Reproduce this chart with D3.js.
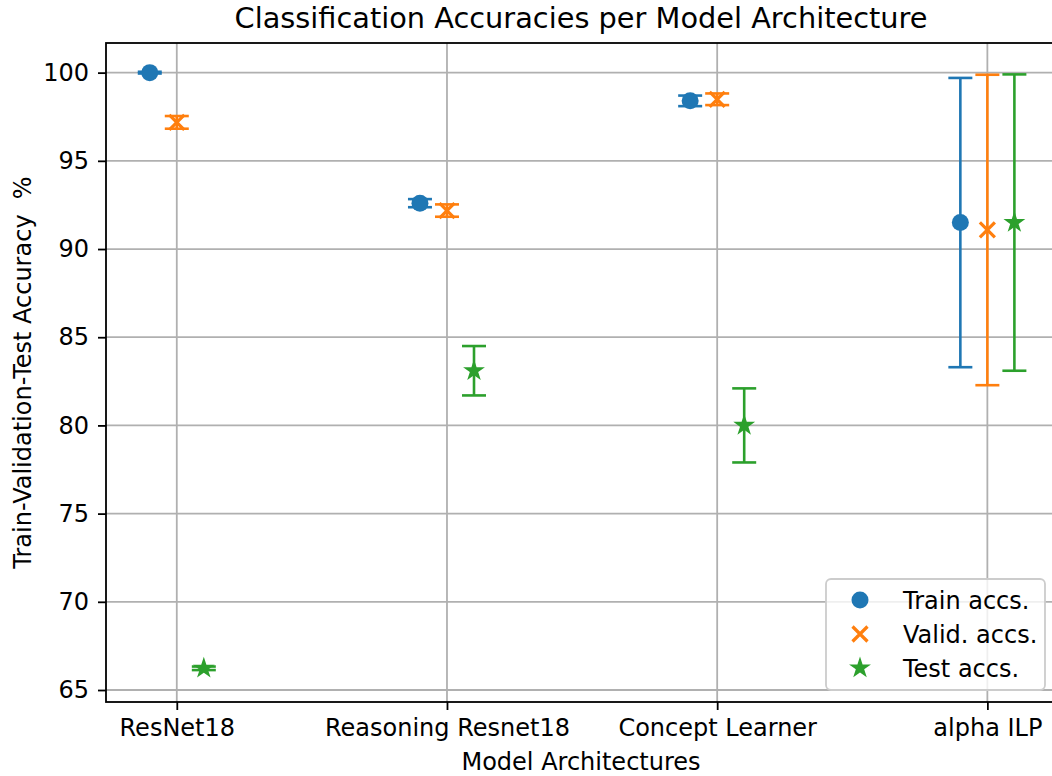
<!DOCTYPE html>
<html><head><meta charset="utf-8">
<script src="https://cdn.jsdelivr.net/npm/d3@7"></script>
<style>body{margin:0;background:#fff}svg{display:block;font-family:"DejaVu Sans",sans-serif}</style>
</head><body><svg id="c" width="1052" height="776"></svg>
<script>
const categories = ["ResNet18", "Reasoning Resnet18", "Concept Learner", "alpha ILP"];
const trainMean = [100.0, 92.6, 98.4, 91.5];
const trainErr  = [0.05, 0.23, 0.3, 8.2];
const validMean = [97.18, 92.18, 98.49, 91.08];
const validErr  = [0.36, 0.35, 0.33, 8.8];
const testMean  = [66.23, 83.1, 80.0, 91.5];
const testErr   = [0.1, 1.4, 2.1, 8.4];
const yTicks = [65, 70, 75, 80, 85, 90, 95, 100];
const seriesNames = ["Train accs.", "Valid. accs.", "Test accs."];
const colors = ["#1f77b4", "#ff7f0e", "#2ca02c"];
const offsets = [-0.1, 0, 0.1];

const svg = d3.select("#c");
const L = 106, R = 1056, T = 43, B = 702;
const x = d3.scaleLinear().domain([-0.262, 3.254]).range([L, R]);
const y = d3.scaleLinear().domain([64.32, 101.68]).range([B, T]);

// grid
const g = svg.append("g");
g.selectAll(".gy").data(yTicks).join("line")
  .attr("x1", L).attr("x2", R).attr("y1", d => y(d)).attr("y2", d => y(d))
  .attr("stroke", "#b0b0b0").attr("stroke-width", 1.8);
g.selectAll(".gx").data(categories).join("line")
  .attr("x1", (d, i) => x(i)).attr("x2", (d, i) => x(i)).attr("y1", T).attr("y2", B)
  .attr("stroke", "#b0b0b0").attr("stroke-width", 1.8);

// axes
const yAxis = d3.axisLeft(y).tickValues(yTicks).tickSize(8).tickPadding(9);
const xAxis = d3.axisBottom(x).tickValues(categories.map((d, i) => i))
  .tickFormat(i => categories[i]).tickSize(8).tickPadding(9);
const ya = svg.append("g").attr("transform", `translate(${L},0)`).call(yAxis);
const xa = svg.append("g").attr("transform", `translate(0,${B})`).call(xAxis);
[ya, xa].forEach(a => {
  a.select(".domain").remove();
  a.selectAll("line").attr("stroke", "#000").attr("stroke-width", 1.8);
  a.selectAll("text").attr("font-size", 24).attr("fill", "#000").attr("font-family", "DejaVu Sans");
});
// spines
svg.append("rect").attr("x", L).attr("y", T).attr("width", R - L).attr("height", B - T)
  .attr("fill", "none").attr("stroke", "#000").attr("stroke-width", 1.8);

// data
const series = [
  {mean: trainMean, err: trainErr},
  {mean: validMean, err: validErr},
  {mean: testMean, err: testErr}
];
const cap = 12;
function star(r) {
  const pts = [];
  for (let k = 0; k < 10; k++) {
    const rr = k % 2 === 0 ? r : r * 0.381966;
    const a = -Math.PI / 2 + k * Math.PI / 5;
    pts.push([rr * Math.cos(a), rr * Math.sin(a)]);
  }
  return "M" + pts.map(p => p.join(",")).join("L") + "Z";
}
function drawMarker(sel, s, cx, cy) {
  const c = colors[s];
  if (s === 0) sel.append("circle").attr("cx", cx).attr("cy", cy).attr("r", 8.5).attr("fill", c);
  else if (s === 1) {
    const h = 7.5;
    sel.append("path").attr("d", `M${cx-h},${cy-h}L${cx+h},${cy+h}M${cx-h},${cy+h}L${cx+h},${cy-h}`)
      .attr("stroke", c).attr("stroke-width", 3.2).attr("fill", "none");
  } else sel.append("path").attr("d", star(11.5)).attr("transform", `translate(${cx},${cy})`).attr("fill", c);
}
series.forEach((sr, s) => {
  const gg = svg.append("g");
  categories.forEach((cat, i) => {
    const cx = x(i + offsets[s]);
    const y1 = y(sr.mean[i] + sr.err[i]), y0 = y(sr.mean[i] - sr.err[i]);
    gg.append("line").attr("x1", cx).attr("x2", cx).attr("y1", y1).attr("y2", y0)
      .attr("stroke", colors[s]).attr("stroke-width", 2.6);
    [y1, y0].forEach(yy => gg.append("line").attr("x1", cx - cap).attr("x2", cx + cap)
      .attr("y1", yy).attr("y2", yy).attr("stroke", colors[s]).attr("stroke-width", 2.6));
  });
  categories.forEach((cat, i) => drawMarker(gg, s, x(i + offsets[s]), y(sr.mean[i])));
});

// legend
const lg = svg.append("g");
lg.append("rect").attr("x", 826).attr("y", 579).attr("width", 219).attr("height", 111)
  .attr("rx", 5).attr("fill", "#fff").attr("fill-opacity", 0.8).attr("stroke", "#cccccc").attr("stroke-width", 1.8);
seriesNames.forEach((n, s) => {
  const cy = 600 + s * 34;
  drawMarker(lg, s, 860, cy);
  lg.append("text").attr("x", 903).attr("y", cy + 8.5).attr("font-size", 24).text(n);
});

// labels
svg.append("text").attr("x", (L + R) / 2).attr("y", 28).attr("text-anchor", "middle")
  .attr("font-size", 28.8).text("Classification Accuracies per Model Architecture");
svg.append("text").attr("x", (L + R) / 2).attr("y", 770).attr("text-anchor", "middle")
  .attr("font-size", 24).text("Model Architectures");
svg.append("text").attr("transform", `translate(31,${(T + B) / 2}) rotate(-90)`).attr("text-anchor", "middle")
  .attr("font-size", 24).attr("xml:space", "preserve").style("white-space", "pre").text("Train-Validation-Test Accuracy  %");
</script></body></html>
